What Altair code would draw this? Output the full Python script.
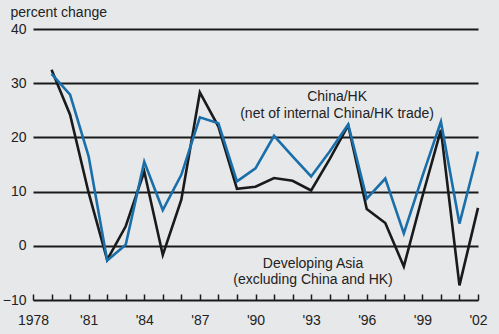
import altair as alt
import pandas as pd

years = list(range(1979, 2003))
developing_asia = [32.5, 24.2, 9.8, -2.6, 3.6, 13.7, -1.7, 8.5, 28.3, 22.0, 10.5, 10.9,
                   12.5, 12.0, 10.2, 16.0, 22.2, 6.8, 4.2, -3.8, 9.1, 21.4, -7.3, 7.0]
china_hk = [31.7, 27.9, 16.5, -2.7, 0.2, 15.5, 6.6, 13.1, 23.7, 22.6, 11.9, 14.3,
            20.3, 16.5, 12.8, 17.4, 22.4, 8.7, 12.4, 2.3, 12.8, 22.9, 4.1, 17.4]
series_names = ["Developing Asia", "China/HK"]
series_colors = ["#1a1a1a", "#1a6faa"]

label_text = ["China/HK", "(net of internal China/HK trade)",
              "Developing Asia", "(excluding China and HK)"]
label_x = [1994.4, 1994.4, 1993.1, 1993.1]
label_y = [27.4, 24.4, -3.4, -6.4]

tick_years = list(range(1978, 2003))
y_ticks = [-10, 0, 10, 20, 30, 40]

df = pd.DataFrame({
    "year": years * 2,
    "value": developing_asia + china_hk,
    "series": [series_names[0]] * len(years) + [series_names[1]] * len(years),
})
labels = pd.DataFrame({"text": label_text, "year": label_x, "value": label_y})

FONT = "Liberation Sans"
FS = 14

x_scale = alt.Scale(domain=[1978, 2002], nice=False, zero=False)
y_scale = alt.Scale(domain=[-10, 40], nice=False, zero=False)

x_axis = alt.Axis(values=tick_years, title=None, grid=False,
                  ticks=True, tickSize=6, tickWidth=1.5, tickColor="#1a1a1a", offset=-6,
                  domain=False,
                  labelExpr="(datum.value - 1978) % 3 == 0 ? (datum.value == 1978 ? '1978' : \"'\" + substring(toString(datum.value), 2, 4)) : ''",
                  labelFontSize=FS, labelColor="#222222", labelFont=FONT,
                  labelPadding=13, labelFlush=False, labelOverlap=False)
y_axis = alt.Axis(values=y_ticks, grid=True, gridColor="#1a1a1a", gridWidth=1.8,
                  ticks=False, domain=False, labelFontSize=FS, labelColor="#222222",
                  labelFont=FONT, labelPadding=7, labelOverlap=False,
                  title="percent change", titleAngle=0, titleAlign="left",
                  titleBaseline="middle", titleX=-23, titleY=-17,
                  titleFontSize=FS, titleFontWeight="normal", titleColor="#222222",
                  titleFont=FONT)

X = alt.X("year:Q", scale=x_scale, axis=x_axis, title=None)
Y = alt.Y("value:Q", scale=y_scale, axis=y_axis, title="percent change")

lines = alt.Chart(df).mark_line(strokeWidth=2.6, strokeJoin="miter").encode(
    x=X, y=Y,
    color=alt.Color("series:N", scale=alt.Scale(domain=series_names, range=series_colors),
                    legend=None),
    order=alt.Order("series:N", sort="ascending"),
)

text = alt.Chart(labels).mark_text(fontSize=FS, font=FONT, color="#222222",
                                   align="center", baseline="middle").encode(
    x=X, y=Y, text="text:N",
)

chart = alt.layer(lines, text).properties(
    width=445, height=271,
    autosize=alt.AutoSizeParams(type="none"),
    padding={"left": 33, "top": 29, "right": 21, "bottom": 34},
    background="#e7e8ea",
).configure_view(stroke=None)

chart.save("out.html", embed_options={"renderer": "svg", "actions": False})
